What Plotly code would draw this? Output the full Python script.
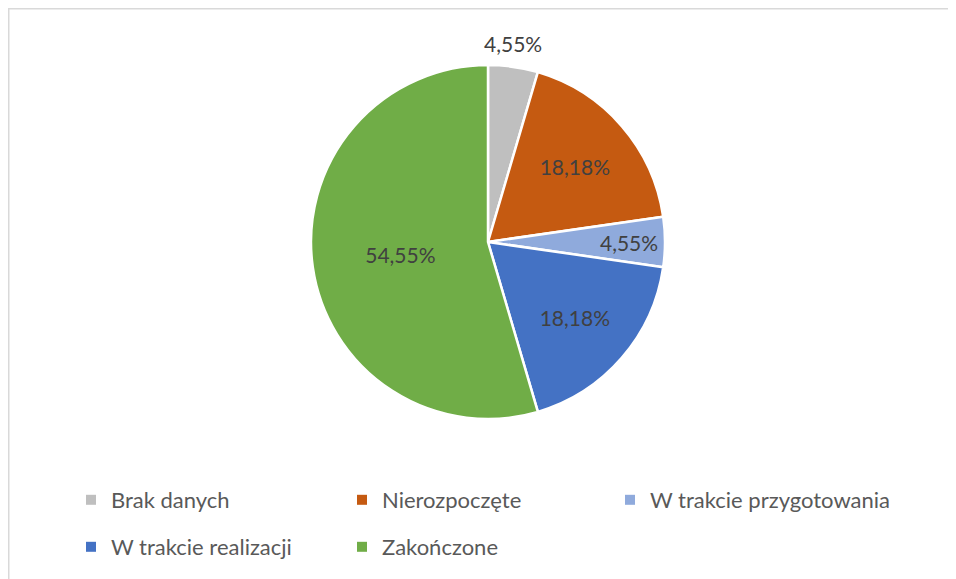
import plotly.graph_objects as go

categories = ["Brak danych", "Nierozpoczęte", "W trakcie przygotowania", "W trakcie realizacji", "Zakończone"]
counts = [1, 4, 1, 4, 12]
colors = ["#BFBFBF", "#C55A11", "#8FAADC", "#4472C4", "#70AD47"]
outside_label_index = 0  # slice whose label sits above the pie

W, H = 956, 579
OFF = 8  # page body margin
cx, cy, r = 488 - OFF, 242 - OFF, 177

total = sum(counts)
pct_text = [f"{v / total * 100:.2f}%".replace(".", ",") for v in counts]
slice_text = [("" if i == outside_label_index else t) for i, t in enumerate(pct_text)]

fig = go.Figure()
fig.add_trace(go.Pie(
    labels=categories,
    values=counts,
    sort=False,
    direction="clockwise",
    rotation=0,
    marker=dict(colors=colors, line=dict(color="white", width=2.5)),
    text=slice_text,
    textinfo="text",
    textposition="inside",
    insidetextorientation="horizontal",
    textfont=dict(family="Lato", size=21, color="#404040"),
    hoverinfo="label+value+percent",
    showlegend=False,
    domain=dict(x=[(cx - r) / W, (cx + r) / W], y=[1 - (cy + r) / H, 1 - (cy - r) / H]),
))

# legend grid: 3 columns, 2 rows (screen px of legend box left edge / row centre)
col_x = [71, 342, 610]
row_y = [500, 547]

legends = {}
for i, (name, col) in enumerate(zip(categories, colors)):
    key = "legend" if i == 0 else f"legend{i + 1}"
    fig.add_trace(go.Scatter(
        x=[None], y=[None], mode="markers", name=name,
        marker=dict(symbol="square", size=10, color=col),
        legend=key,
        hoverinfo="skip",
    ))
    legends[key] = dict(
        orientation="h",
        x=(col_x[i % 3] - OFF) / W, xanchor="left",
        y=1 - (row_y[i // 3] - OFF) / H, yanchor="middle",
        font=dict(family="Lato", size=22, color="#595959"),
        bgcolor="rgba(0,0,0,0)",
    )

fig.update_layout(
    width=W, height=H,
    margin=dict(l=0, r=0, t=0, b=0),
    paper_bgcolor="white",
    plot_bgcolor="white",
    xaxis=dict(visible=False),
    yaxis=dict(visible=False),
    annotations=[dict(
        text=pct_text[outside_label_index],
        x=(513 - OFF) / W, y=1 - (43 - OFF) / H,
        xref="paper", yref="paper", xanchor="center", yanchor="middle",
        showarrow=False,
        font=dict(family="Lato", size=21, color="#404040"),
    )],
    shapes=[
        dict(type="line", xref="paper", yref="paper", x0=0, x1=1, y0=1, y1=1,
             line=dict(color="#D9D9D9", width=3)),
        dict(type="line", xref="paper", yref="paper", x0=0, x1=0, y0=0, y1=1,
             line=dict(color="#D9D9D9", width=3)),
    ],
    **legends,
)

fig.write_html("out.html")
